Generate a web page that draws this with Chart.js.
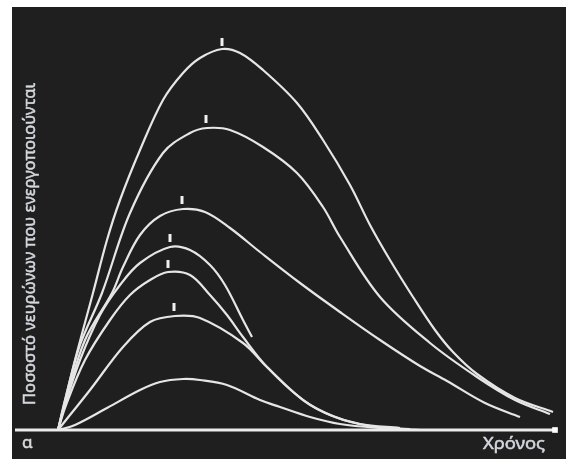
<!DOCTYPE html>
<html>
<head>
<meta charset="utf-8">
<script src="https://cdn.jsdelivr.net/npm/chart.js@4"></script>
<style>
  html, body { margin: 0; padding: 0; background: #fff; }
  canvas { display: block; }
</style>
</head>
<body>
<canvas id="neuronChart" width="566" height="459"></canvas>
<script>
// time axis runs 0..100 from the curves' origin to the end of the baseline
const timeA = [0, 1.2, 3.4, 7, 9.8, 12.4, 16.4, 21, 25, 28.4, 32.8, 36.4, 41, 47.8, 53, 58.4, 62.4, 66.4, 71, 75.4, 79, 83.8, 91.4, 99];
const valuesA = [0, 6.25, 17.5, 34.25, 47.5, 57.5, 70, 82.5, 89.25, 93, 95.25, 94.25, 90, 81.75, 72.5, 61.25, 51.25, 42.5, 33.25, 25, 19.5, 14, 8, 4.5];

const timeB = [0, 1.4, 4.4, 8.8, 14.4, 21, 26.4, 29.8, 34.4, 41, 47.8, 53, 56.4, 64.4, 74.4, 83.8, 91.4, 98.4];
const valuesB = [0, 7.5, 21.25, 34.25, 54.25, 69.25, 74.25, 75.5, 75, 70.75, 64.25, 55.75, 48.25, 33.25, 21.75, 13.25, 7.5, 4];

const timeC = [0, 1.6, 5.4, 10.8, 13, 16.4, 20.4, 25, 29.4, 34.4, 40.4, 48.4, 56.4, 64.4, 72.4, 77.8, 85.4, 92.4];
const valuesC = [0, 7.5, 22.5, 34.25, 40.75, 48.75, 53.5, 55.25, 54.5, 50.5, 44.5, 36.75, 29.5, 22.5, 16, 12.25, 6.75, 3.25];

const timeD = [0, 1.4, 4.4, 8.4, 12.4, 16.4, 22.4, 26.4, 30.4, 33.4, 37, 38.8];
const valuesD = [0, 6.25, 17.5, 28.75, 36.25, 41.75, 45.75, 45, 41.25, 36.25, 27.5, 23.25];

const timeE = [0, 1.6, 5.4, 10.4, 14.4, 18.4, 22, 26.4, 30.4, 33.8, 37, 41.8, 49, 54.4, 60.4, 68.4];
const valuesE = [0, 6.25, 17.5, 27.5, 33.75, 37.5, 39.5, 38.75, 33.75, 28.75, 23.25, 15.75, 7.5, 3.75, 1.5, 0.5];

const timeF = [0, 2.4, 6.4, 13, 18.4, 23.4, 28.4, 37, 41.8, 49, 55.4, 62.4, 70.4];
const valuesF = [0, 3.75, 10, 20.75, 27, 28.5, 28, 21.75, 15.75, 7.5, 3.25, 1, 0.25];

const timeG = [0, 3.4, 9.8, 16.4, 20.4, 25, 28.4, 33.8, 40.4, 44.4, 50.4, 56.4, 64.4, 72.4];
const valuesG = [0, 1.25, 5.5, 10, 12, 12.75, 12.5, 11.25, 7.5, 5.75, 3.25, 1.5, 0.5, 0];

// little marks above the peaks
const peakTimes = [32.8, 29.6, 24.8, 22.4, 22, 23.2];
const peakMarks = [97, 77.75, 57.5, 48, 41.5, 30.75];

const baseTime = [-8.6, 99.4];
const baseValues = [0, 0];

const yTitle = "Ποσοστό νευρώνων που ενεργοποιούνται";
const xTitle = "Χρόνος";
const panelLabel = "α";

const lineColor = "#e6e6e6";
const textColor = "#d3d7de";

function toPoints(xs, ys) {
    return xs.map((x, i) => ({ x: x, y: ys[i] }));
}

function curve(xs, ys) {
    return {
        data: toPoints(xs, ys),
        showLine: true,
        borderColor: lineColor,
        borderWidth: 2.2,
        pointRadius: 0,
        tension: 0.35,
        clip: false,
    };
}

// text with a hairline stroke so it looks a little heavier than regular
function heavyText(ctx, text, x, y) {
    ctx.fillText(text, x, y);
    ctx.lineWidth = 0.5;
    ctx.strokeText(text, x, y);
}

const panelBackground = {
    id: "panelBackground",
    beforeDraw(chart) {
        const ctx = chart.ctx;
        ctx.save();
        ctx.fillStyle = "#ffffff";
        ctx.fillRect(0, 0, chart.width, chart.height);
        ctx.fillStyle = "#1f1f1f";
        ctx.fillRect(12, 7, chart.width - 12, chart.height - 7);
        ctx.restore();
    },
};

const panelText = {
    id: "panelText",
    afterDraw(chart) {
        const ctx = chart.ctx;
        ctx.save();
        ctx.fillStyle = textColor;
        ctx.strokeStyle = textColor;
        ctx.textBaseline = "middle";
        ctx.textAlign = "left";
        ctx.font = "16px 'Noto Sans'";
        const w = ctx.measureText(yTitle).width;
        ctx.translate(30, 405);
        ctx.rotate(-Math.PI / 2);
        ctx.scale(322 / w, 1);
        heavyText(ctx, yTitle, 0, 0);
        ctx.restore();

        ctx.save();
        ctx.fillStyle = textColor;
        ctx.strokeStyle = textColor;
        ctx.textBaseline = "middle";
        ctx.textAlign = "left";
        ctx.font = "16px 'Noto Sans'";
        const wx = ctx.measureText(xTitle).width;
        ctx.translate(483, 444);
        ctx.scale(62 / wx, 1);
        heavyText(ctx, xTitle, 0, 0);
        ctx.restore();

        ctx.save();
        ctx.fillStyle = "#dadada";
        ctx.strokeStyle = "#dadada";
        ctx.textBaseline = "middle";
        ctx.font = "17px 'Noto Sans'";
        heavyText(ctx, panelLabel, 22, 443);
        ctx.restore();
    },
};

new Chart(document.getElementById("neuronChart"), {
    type: "scatter",
    data: {
        datasets: [
            {
                data: toPoints(baseTime, baseValues),
                showLine: true,
                borderColor: "#ececec",
                borderWidth: 3,
                pointRadius: [0, 4],
                pointStyle: "rect",
                pointBackgroundColor: "#ffffff",
                pointBorderWidth: 0,
                clip: false,
            },
            curve(timeG, valuesG),
            curve(timeF, valuesF),
            curve(timeE, valuesE),
            curve(timeD, valuesD),
            curve(timeC, valuesC),
            curve(timeB, valuesB),
            curve(timeA, valuesA),
            {
                data: toPoints(peakTimes, peakMarks),
                pointStyle: "line",
                rotation: 90,
                pointRadius: 4,
                borderColor: "#f0f0f0",
                borderWidth: 3,
                clip: false,
            },
        ],
    },
    options: {
        responsive: false,
        animation: false,
        layout: { padding: { left: 15, right: 11, top: 30, bottom: 29 } },
        plugins: {
            legend: { display: false },
            tooltip: { enabled: false },
        },
        scales: {
            x: { type: "linear", min: -8.6, max: 99.4, display: false },
            y: { type: "linear", min: 0, max: 100, display: false },
        },
    },
    plugins: [panelBackground, panelText],
});
</script>
</body>
</html>
